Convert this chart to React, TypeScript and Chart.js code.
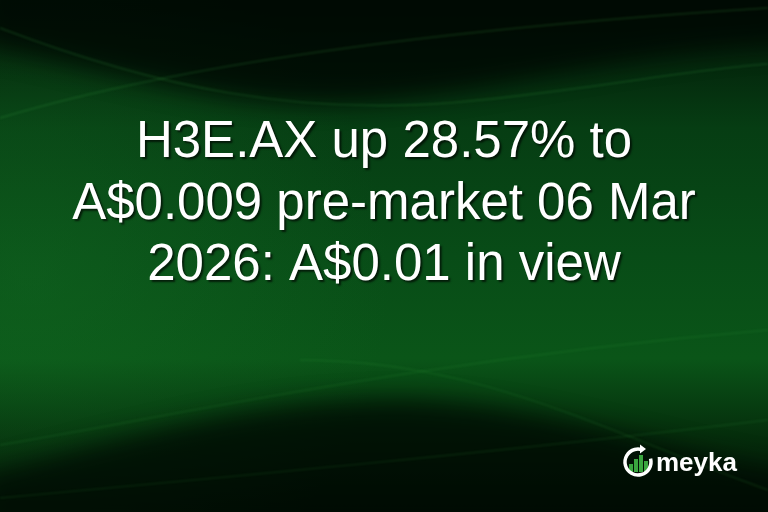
import React, { useEffect, useRef } from 'react';
import { Chart, registerables } from 'chart.js';
import type { ChartConfiguration, Plugin } from 'chart.js';

Chart.register(...registerables);

// headline, one entry per line
const titleLines = ['H3E.AX up 28.57% to', 'A$0.009 pre-market 06 Mar', '2026: A$0.01 in view'];
const brandName = 'meyka';

const FONT = '"Liberation Sans", Arial, Helvetica, sans-serif';

// green wavy background + text shadow for the title
const backgroundPlugin: Plugin = {
  id: 'waveBackground',
  beforeDraw(chart) {
    const { ctx, width, height } = chart;
    ctx.save();

    const base = ctx.createLinearGradient(0, 0, 0, height);
    base.addColorStop(0, '#021306');
    base.addColorStop(0.25, '#063d13');
    base.addColorStop(0.5, '#084c17');
    base.addColorStop(0.7, '#0a5518');
    base.addColorStop(0.85, '#052e0c');
    base.addColorStop(1, '#021104');
    ctx.fillStyle = base;
    ctx.fillRect(0, 0, width, height);

    // soft glow on the left
    const glow = ctx.createRadialGradient(30, 280, 10, 30, 280, 360);
    glow.addColorStop(0, 'rgba(20,110,35,0.4)');
    glow.addColorStop(1, 'rgba(20,110,35,0)');
    ctx.fillStyle = glow;
    ctx.fillRect(0, 0, width, height);

    ctx.filter = 'blur(12px)';
    // dark top sweep
    ctx.fillStyle = 'rgba(0,8,2,0.8)';
    ctx.beginPath();
    ctx.moveTo(-20, -20);
    ctx.lineTo(width + 20, -20);
    ctx.lineTo(width + 20, 45);
    ctx.bezierCurveTo(560, 55, 420, 125, 220, 95);
    ctx.bezierCurveTo(130, 80, 40, 55, -20, 45);
    ctx.closePath();
    ctx.fill();

    // dark bottom wave
    ctx.fillStyle = 'rgba(0,10,3,0.75)';
    ctx.beginPath();
    ctx.moveTo(-20, height + 20);
    ctx.lineTo(-20, 475);
    ctx.bezierCurveTo(120, 440, 260, 395, 420, 400);
    ctx.bezierCurveTo(560, 408, 680, 455, width + 20, 470);
    ctx.lineTo(width + 20, height + 20);
    ctx.closePath();
    ctx.fill();
    ctx.filter = 'blur(1px)';

    // thin light streaks
    ctx.strokeStyle = 'rgba(70,190,80,0.2)';
    ctx.lineWidth = 1.5;
    ctx.beginPath();
    ctx.moveTo(0, 118);
    ctx.quadraticCurveTo(260, 40, width, 8);
    ctx.stroke();

    ctx.beginPath();
    ctx.moveTo(0, 28);
    ctx.bezierCurveTo(150, 85, 300, 120, 480, 100);
    ctx.bezierCurveTo(600, 88, 700, 68, width, 64);
    ctx.stroke();

    ctx.strokeStyle = 'rgba(70,190,80,0.14)';
    ctx.beginPath();
    ctx.moveTo(0, 445);
    ctx.bezierCurveTo(180, 415, 420, 360, width, 330);
    ctx.stroke();

    ctx.beginPath();
    ctx.moveTo(0, 498);
    ctx.bezierCurveTo(250, 475, 520, 450, width, 420);
    ctx.stroke();

    ctx.beginPath();
    ctx.moveTo(300, 360);
    ctx.bezierCurveTo(480, 360, 600, 430, width, 490);
    ctx.stroke();
    ctx.filter = 'none';

    ctx.restore();

    // shadow picked up by the title box
    ctx.shadowColor = 'rgba(0,0,0,0.65)';
    ctx.shadowOffsetX = 2;
    ctx.shadowOffsetY = 2;
    ctx.shadowBlur = 2;
  },
  beforeDatasetsDraw(chart) {
    const { ctx } = chart;
    ctx.shadowColor = 'rgba(0,0,0,0)';
    ctx.shadowOffsetX = 0;
    ctx.shadowOffsetY = 0;
    ctx.shadowBlur = 0;
  },
  afterDraw(chart) {
    const { ctx } = chart;
    ctx.save();
    ctx.shadowColor = 'rgba(0,0,0,0)';
    const cx = 638;
    const cy = 462;

    // logo bars
    ctx.fillStyle = '#3aa63f';
    const bars = [8, 13, 17, 11];
    bars.forEach((h, i) => {
      ctx.fillRect(629 + i * 5, 472 - h, 4, h);
    });

    // logo ring
    ctx.strokeStyle = '#ffffff';
    ctx.lineWidth = 3.5;
    ctx.beginPath();
    ctx.arc(cx, cy, 13, (-15 * Math.PI) / 180, (285 * Math.PI) / 180);
    ctx.stroke();
    ctx.fillStyle = '#ffffff';
    ctx.beginPath();
    ctx.moveTo(cx + 2, cy - 17.5);
    ctx.lineTo(cx + 8, cy - 13);
    ctx.lineTo(cx + 2, cy - 8.5);
    ctx.closePath();
    ctx.fill();

    ctx.font = `bold 26px ${FONT}`;
    ctx.textAlign = 'left';
    ctx.textBaseline = 'alphabetic';
    ctx.fillText(brandName, 656, 471);
    ctx.restore();
  },
};

const App: React.FC = () => {
  const chartRef = useRef<HTMLCanvasElement>(null);
  const chartInstanceRef = useRef<Chart | null>(null);

  useEffect(() => {
    document.body.style.margin = '0';
    if (!chartRef.current) return;
    if (chartInstanceRef.current) {
      chartInstanceRef.current.destroy();
    }
    const ctx = chartRef.current.getContext('2d');
    if (!ctx) return;

    const config: ChartConfiguration = {
      type: 'bar',
      data: {
        labels: [],
        datasets: [],
      },
      options: {
        responsive: true,
        maintainAspectRatio: false,
        animation: false,
        layout: { padding: 0 },
        plugins: {
          legend: { display: false },
          tooltip: { enabled: false },
          title: {
            display: true,
            text: titleLines,
            color: '#ffffff',
            align: 'center',
            font: { family: FONT, size: 51, weight: 'normal', lineHeight: 1.21 },
            padding: { top: 112, bottom: 0 },
          },
        },
        scales: {
          x: { display: false },
          y: { display: false },
        },
      },
      plugins: [backgroundPlugin],
    };

    chartInstanceRef.current = new Chart(ctx, config);

    return () => {
      if (chartInstanceRef.current) {
        chartInstanceRef.current.destroy();
        chartInstanceRef.current = null;
      }
    };
  }, []);

  return (
    <div style={{ width: 768, height: 512, position: 'relative' }}>
      <canvas ref={chartRef}></canvas>
    </div>
  );
};

export default App;
